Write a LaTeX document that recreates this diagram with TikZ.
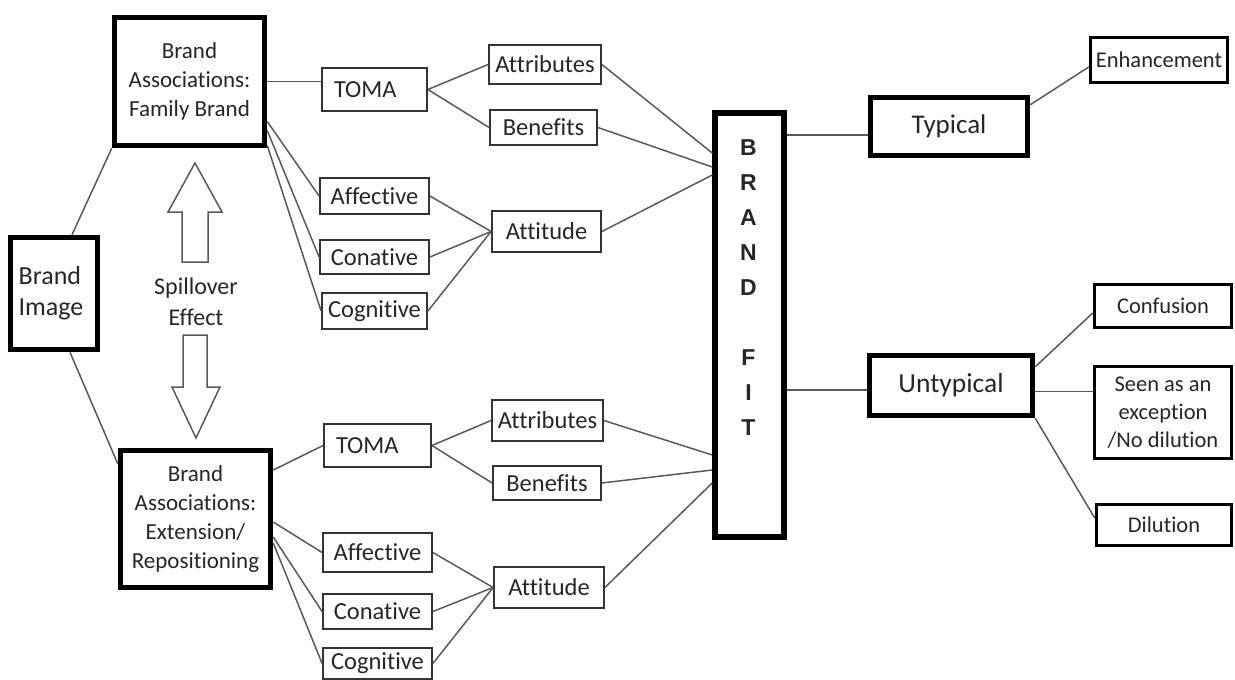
\documentclass[tikz,border=0pt]{standalone}
\usepackage{fontspec}
\setmainfont[Ligatures=NoCommon]{Carlito}
\newfontfamily\bfitfont{Liberation Sans}
\begin{document}
\begin{tikzpicture}[x=1pt,y=-1pt,
  txt/.style={text=black!85},
  thinbox/.style={draw=black!80, line width=1.8pt, inner sep=0pt, txt, font=\fontsize{24.5}{28}\selectfont, align=center},
  medbox/.style={draw=black, line width=3.5pt, inner sep=0pt, txt, font=\fontsize{22.5}{28}\selectfont, align=center},
  thickbox/.style={draw=black, line width=5.5pt, inner sep=0pt, txt, align=center},
  conn/.style={draw=black!65, line width=1.5pt},
  arrowshape/.style={draw=black!65, line width=1.5pt, fill=white, line join=miter},
  tomabox/.style={thinbox, inner xsep=12pt, text width=#1, align=left}
]
\path[use as bounding box] (0,0) rectangle (1235,680);

% left big boxes
\node[thickbox, minimum width=150pt, minimum height=128pt, font=\fontsize{23}{29}\selectfont] (fam) at (189.5,81.5) {Brand\\Associations:\\Family Brand};
\node[thickbox, minimum width=87pt, minimum height=112pt, font=\fontsize{26}{31}\selectfont, align=left] (img) at (54,293.5) {\hspace*{-6pt}Brand\\\hspace*{-6pt}Image};
\node[thickbox, minimum width=150pt, minimum height=137pt, font=\fontsize{23}{29}\selectfont] (ext) at (195.5,519) {Brand\\Associations:\\Extension/\\Repositioning};

% spillover arrows
\draw[arrowshape] (182,262) -- (182,212) -- (168,212) -- (195,163) -- (222,212) -- (208,212) -- (208,262) -- cycle;
\draw[arrowshape] (183,335) -- (207,335) -- (207,387) -- (220,387) -- (196,438) -- (172,387) -- (183,387) -- cycle;
\node[txt, font=\fontsize{24}{31}\selectfont, align=center] (spill) at (196,302) {Spillover\\Effect};

% top group
\node[tomabox=81pt, minimum height=43pt] (toma1) at (374.5,89.5) {TOMA};
\node[thinbox, minimum width=112pt, minimum height=39pt] (attr1) at (545,64.5) {Attributes};
\node[thinbox, minimum width=107pt, minimum height=35pt] (ben1) at (543.5,127.5) {Benefits};
\node[thinbox, minimum width=109pt, minimum height=36pt] (aff1) at (374.5,196) {Affective};
\node[thinbox, minimum width=109pt, minimum height=41pt] (att1) at (546.5,231.5) {Attitude};
\node[thinbox, minimum width=109pt, minimum height=34pt] (con1) at (374.5,257) {Conative};
\node[thinbox, minimum width=105pt, minimum height=36pt] (cog1) at (374.5,311) {Cognitive};

% bottom group
\node[tomabox=83pt, minimum height=43pt] (toma2) at (377.5,445.5) {TOMA};
\node[thinbox, minimum width=111pt, minimum height=41pt] (attr2) at (547.5,420.5) {Attributes};
\node[thinbox, minimum width=108pt, minimum height=34pt] (ben2) at (547,483) {Benefits};
\node[thinbox, minimum width=109pt, minimum height=39pt] (aff2) at (377.5,552.5) {Affective};
\node[thinbox, minimum width=110pt, minimum height=41pt] (att2) at (549,587.5) {Attitude};
\node[thinbox, minimum width=109pt, minimum height=35pt] (con2) at (377.5,611.5) {Conative};
\node[thinbox, minimum width=109pt, minimum height=31pt] (cog2) at (377.5,663.5) {Cognitive};

% brand fit
\node[thickbox, minimum width=69pt, minimum height=424pt] (bf) at (749.5,325) {};
\node[txt, font=\bfitfont\bfseries\fontsize{23}{35}\selectfont, align=center, inner sep=0pt] (bftxt) at (748.5,287.5) {B\\R\\A\\N\\D\\[35pt]F\\I\\T};

% right side
\node[thickbox, minimum width=157pt, minimum height=58pt, font=\fontsize{27}{30}\selectfont] (typ) at (949,126.5) {\raisebox{-4pt}{Typical}};
\node[medbox, minimum width=137pt, minimum height=45pt] (enh) at (1159,60) {Enhancement};
\node[thickbox, minimum width=163pt, minimum height=60pt, font=\fontsize{27.5}{30}\selectfont] (unt) at (951,385.5) {Untypical};
\node[medbox, minimum width=137pt, minimum height=43pt] (conf) at (1163,306) {Confusion};
\node[medbox, minimum width=137pt, minimum height=92pt] (seen) at (1163,412.5) {Seen as an\\exception\\/No dilution};
\node[medbox, minimum width=135pt, minimum height=41pt] (dil) at (1164,525) {Dilution};

% connectors left
\draw[conn] ([xshift=18pt]img.north) -- (fam.south west);
\draw[conn] ([xshift=16pt]img.south) -- ([yshift=-16pt]ext.north west);
\coordinate (f0) at (fam.east);
\draw[conn] (f0) -- (f0 -| toma1.west);
\draw[conn] ([yshift=-40pt]fam.east) -- (aff1.west);
\draw[conn] ([yshift=-49pt]fam.east) -- (con1.west);
\draw[conn] ([yshift=-64pt]fam.east) -- (cog1.west);
\draw[conn] ([yshift=49pt]ext.east) -- (toma2.west);
\draw[conn] ([yshift=-3pt]ext.east) -- (aff2.west);
\draw[conn] ([yshift=-18pt]ext.east) -- (con2.west);
\draw[conn] ([yshift=-24pt]ext.east) -- (cog2.west);

% middle connectors top
\draw[conn] (toma1.east) -- (attr1.west);
\draw[conn] (toma1.east) -- (ben1.west);
\draw[conn] (aff1.east) -- (att1.west);
\draw[conn] (con1.east) -- (att1.west);
\draw[conn] (cog1.east) -- (att1.west);
\draw[conn] (attr1.east) -- ([yshift=172pt]bf.west);
\draw[conn] (ben1.east) -- ([yshift=158pt]bf.west);
\draw[conn] (att1.east) -- ([yshift=150pt]bf.west);

% middle connectors bottom
\draw[conn] (toma2.east) -- (attr2.west);
\draw[conn] (toma2.east) -- (ben2.west);
\draw[conn] (aff2.east) -- (att2.west);
\draw[conn] (con2.east) -- (att2.west);
\draw[conn] (cog2.east) -- (att2.west);
\draw[conn] (attr2.east) -- ([yshift=-130pt]bf.west);
\draw[conn] (ben2.east) -- ([yshift=-145pt]bf.west);
\draw[conn] (att2.east) -- ([yshift=-158pt]bf.west);

% right connectors
\coordinate (b1) at ([yshift=190pt]bf.east);
\coordinate (b2) at ([yshift=-65pt]bf.east);
\draw[conn] (b1) -- (b1 -| typ.west);
\draw[conn] (b2) -- (b2 -| unt.west);
\draw[conn] ([yshift=-10pt]typ.north east) -- ([yshift=-7pt]enh.west);
\draw[conn] ([yshift=-14pt]unt.north east) -- ([yshift=-7pt]conf.west);
\coordinate (u1) at ([yshift=-6pt]unt.east);
\draw[conn] (u1) -- (u1 -| seen.west);
\draw[conn] (unt.south east) -- ([yshift=7pt]dil.west);
\end{tikzpicture}
\end{document}
